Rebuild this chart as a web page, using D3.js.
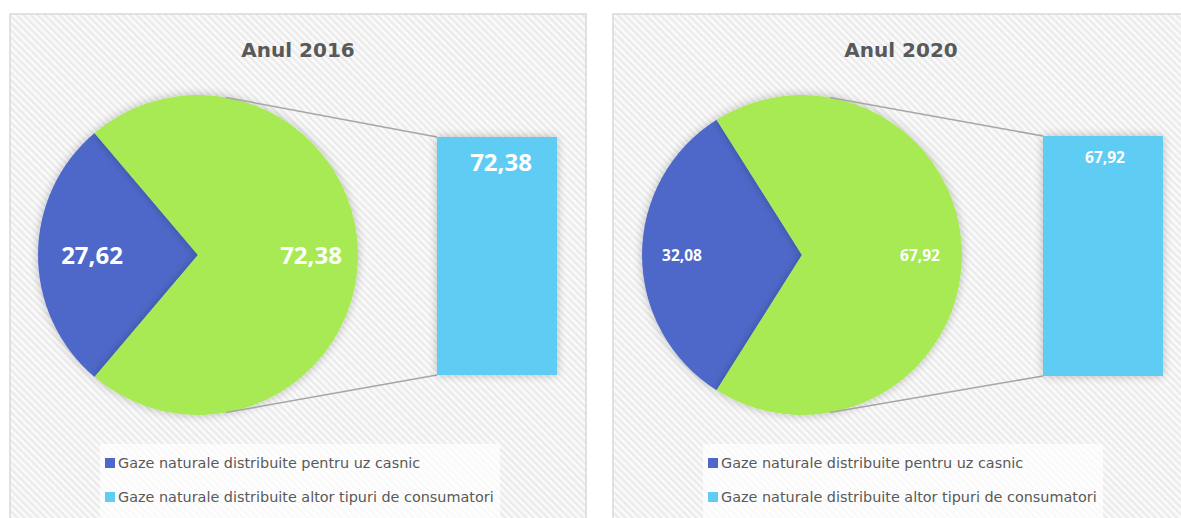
<!DOCTYPE html>
<html><head><meta charset="utf-8">
<script src="https://cdn.jsdelivr.net/npm/d3@7"></script>
<style>body{margin:0;background:#fff;}svg{display:block;font-family:"DejaVu Sans",Verdana,sans-serif;}</style>
</head><body>
<svg id="c" width="1181" height="518"></svg>
<script>
const categories = ["Gaze naturale distribuite pentru uz casnic", "Gaze naturale distribuite altor tipuri de consumatori"];
const years = ["Anul 2016", "Anul 2020"];
const values2016 = [27.62, 72.38];
const values2020 = [32.08, 67.92];
const labels2016 = ["27,62", "72,38"];
const labels2020 = ["32,08", "67,92"];
const colors = ["#4E67C8", "#A7EA52", "#5ECCF3"];

const svg = d3.select("#c");
const defs = svg.append("defs");
const pat = defs.append("pattern").attr("id","hatch").attr("patternUnits","userSpaceOnUse")
  .attr("width",5).attr("height",5).attr("patternTransform","rotate(-45)");
pat.append("rect").attr("width",5).attr("height",5).attr("fill","#fbfbfb");
pat.append("rect").attr("width",2.4).attr("height",5).attr("fill","#ebebeb");
const f = defs.append("filter").attr("id","sh").attr("x","-20%").attr("y","-20%").attr("width","140%").attr("height","140%");
f.append("feGaussianBlur").attr("in","SourceAlpha").attr("stdDeviation",5);
f.append("feOffset").attr("dx",0).attr("dy",0).attr("result","b");
f.append("feComponentTransfer").append("feFuncA").attr("type","linear").attr("slope",0.25);
const m = f.append("feMerge"); m.append("feMergeNode"); m.append("feMergeNode").attr("in","SourceGraphic");

const panels = [
  {x:10, w:576, vals:values2016, labs:labels2016, title:years[0], big:true, cx:198, barX:437},
  {x:613, w:600, vals:values2020, labs:labels2020, title:years[1], big:false, cx:802, barX:1043}
];
const R = 160, cy = 255;

panels.forEach(p => {
  const g = svg.append("g");
  g.append("rect").attr("x",p.x).attr("y",14).attr("width",p.w).attr("height",540)
    .attr("fill","url(#hatch)").attr("stroke","#d9d9d9").attr("stroke-width",1.5);
  g.append("text").attr("x",p.x+288).attr("y",57).attr("text-anchor","middle")
    .attr("font-size",20).attr("font-weight","bold").attr("fill","#595959").text(p.title);

  const total = d3.sum(p.vals);
  const blueAng = p.vals[0]/total*2*Math.PI;
  const start = 1.5*Math.PI - blueAng/2;
  const pie = d3.pie().sort(null).startAngle(start).endAngle(start+2*Math.PI);
  const arcs = pie(p.vals);
  const arc = d3.arc().innerRadius(0).outerRadius(R);
  const pg = g.append("g").attr("transform",`translate(${p.cx},${cy})`);

  const y = d3.scaleLinear().domain([0, p.vals[1]]).range([p.big?375:376, p.big?137:136]);
  const a = 10*Math.PI/180;
  const lines = [[R*Math.sin(a), -R*Math.cos(a), y(p.vals[1])],[R*Math.sin(a), R*Math.cos(a), y(0)]];
  lines.forEach(l => g.append("line").attr("x1",p.cx+l[0]).attr("y1",cy+l[1]).attr("x2",p.barX).attr("y2",l[2])
     .attr("stroke","#a6a6a6").attr("stroke-width",1.5));

  pg.selectAll("path").data(arcs).join("path").attr("d",arc)
    .attr("fill",(d,i)=>colors[i]).attr("filter","url(#sh)");

  g.append("rect").attr("x",p.barX).attr("y",y(p.vals[1])).attr("width",120)
    .attr("height",y(0)-y(p.vals[1])).attr("fill",colors[2]).attr("filter","url(#sh)");

  const fs = p.big ? 24 : 15.5;
  const lx = p.big ? [-106, 113] : [-120, 118];
  const lf = "'Open Sans', sans-serif";
  p.labs.forEach((t,i)=> pg.append("text").attr("x",lx[i]).attr("y",0).attr("dy","0.36em")
     .attr("text-anchor","middle").attr("font-family",lf).attr("font-size",fs).attr("font-weight","bold").attr("fill","#fff").text(t));
  g.append("text").attr("x",p.barX+(p.big?64:62)).attr("y",p.big?162:157).attr("dy","0.36em").attr("text-anchor","middle")
     .attr("font-family",lf).attr("font-size",fs).attr("font-weight","bold").attr("fill","#fff").text(p.labs[1]);

  const lgX = p.x + 92;
  g.append("rect").attr("x",lgX-2).attr("y",444).attr("width",400).attr("height",74).attr("fill","#fff").attr("opacity",0.7);
  const legCols = [colors[0], colors[2]];
  categories.forEach((c,i)=>{
    g.append("rect").attr("x",lgX+3).attr("y",458+i*34).attr("width",10).attr("height",10).attr("fill",legCols[i]);
    g.append("text").attr("x",lgX+16).attr("y",463+i*34).attr("dy","0.35em").attr("font-size",14.4)
      .attr("fill","#595959").text(c);
  });
});
</script>
</body></html>
